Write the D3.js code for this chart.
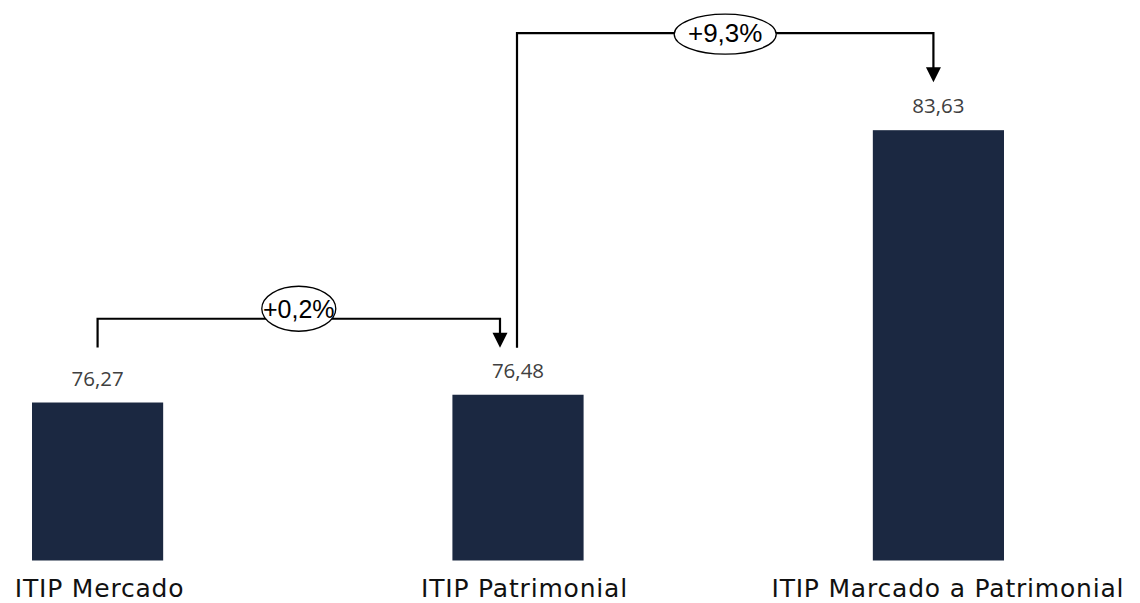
<!DOCTYPE html>
<html>
<head>
<meta charset="utf-8">
<script src="https://cdn.jsdelivr.net/npm/d3@7"></script>
<style>
  html, body { margin: 0; padding: 0; background: #ffffff; }
  svg { display: block; }
</style>
</head>
<body>
<svg id="chart" width="1140" height="603"></svg>
<script>
// Index values for the three ITIP views
const categories = ["ITIP Mercado", "ITIP Patrimonial", "ITIP Marcado a Patrimonial"];
const values = [76.27, 76.48, 83.63];
const valueLabels = ["76,27", "76,48", "83,63"];

// Step-to-step variation shown on the connectors
const changeFrom = [0, 1];
const changeTo = [1, 2];
const changeLabels = ["+0,2%", "+9,3%"];

const W = 1140, H = 603;
const svg = d3.select("#chart");
svg.append("rect").attr("width", W).attr("height", H).attr("fill", "#ffffff");

const x = d3.scaleBand()
  .domain(categories)
  .range([32, 1004])
  .paddingInner(0.688)
  .paddingOuter(0);

const y = d3.scaleLinear()
  .domain([72, 84])
  .range([560.5, 116.5]);

const baseY = y(72);
const barColor = "#1b2841";

// Bars
svg.append("g").selectAll("rect")
  .data(values)
  .join("rect")
  .attr("x", (d, i) => x(categories[i]))
  .attr("y", d => y(d))
  .attr("width", x.bandwidth())
  .attr("height", d => baseY - y(d))
  .attr("fill", barColor);

// Value labels above each bar
svg.append("g").selectAll("text")
  .data(values)
  .join("text")
  .attr("x", (d, i) => x(categories[i]) + x.bandwidth() / 2)
  .attr("y", d => y(d) - 17)
  .attr("text-anchor", "middle")
  .attr("font-family", "'Open Sans', sans-serif")
  .attr("font-size", 20.5)
  .attr("fill", "#404040")
  .text((d, i) => valueLabels[i]);

// Category labels under the bars (small horizontal nudge per label)
const labelNudge = [2, 6.5, 9.5];
svg.append("g").selectAll("text")
  .data(categories)
  .join("text")
  .attr("x", (d, i) => x(d) + x.bandwidth() / 2 + labelNudge[i])
  .attr("y", 597)
  .attr("text-anchor", "middle")
  .attr("font-family", "'DejaVu Sans', sans-serif")
  .attr("font-size", 25)
  .attr("letter-spacing", 0.8)
  .attr("fill", "#111111")
  .text(d => d);

// Connector geometry: bracket height above the taller bar, end offset, bubble style
const connectorLayout = [
  { rise: 76, tipGap: 47, startGap: 55, endShift: -18, bubbleDy: -10, rx: 37, ry: 22.5, fs: 25, textDy: 9 },
  { rise: 97, tipGap: 48, startGap: 47, endShift: -5, bubbleDy: 1, rx: 51, ry: 20, fs: 26, textDy: 8 }
];

const cx = i => x(categories[i]) + x.bandwidth() / 2;
const conn = svg.append("g");

changeLabels.forEach((label, k) => {
  const a = changeFrom[k], b = changeTo[k];
  const L = connectorLayout[k];
  const topY = Math.min(y(values[a]), y(values[b])) - L.rise;
  const x0 = cx(a) - (k === 1 ? 1 : 0);
  const x1 = cx(b) + L.endShift;
  const y0 = y(values[a]) - L.startGap;
  const tipY = y(values[b]) - L.tipGap;
  const headH = 15, headW = 15;

  conn.append("path")
    .attr("d", `M${x0},${y0} V${topY} H${x1} V${tipY - headH + 1}`)
    .attr("fill", "none")
    .attr("stroke", "#000")
    .attr("stroke-width", 2.2)
    .attr("stroke-linejoin", "miter");

  conn.append("path")
    .attr("d", `M${x1 - headW / 2},${tipY - headH} L${x1 + headW / 2},${tipY - headH} L${x1},${tipY} Z`)
    .attr("fill", "#000");

  const mx = (x0 + x1) / 2;
  const my = topY + L.bubbleDy;
  conn.append("ellipse")
    .attr("cx", mx)
    .attr("cy", my)
    .attr("rx", L.rx)
    .attr("ry", L.ry)
    .attr("fill", "#ffffff")
    .attr("stroke", "#000")
    .attr("stroke-width", 1.3);

  conn.append("text")
    .attr("x", mx)
    .attr("y", my + L.textDy)
    .attr("text-anchor", "middle")
    .attr("font-family", "'Liberation Sans', Arial, sans-serif")
    .attr("font-size", L.fs)
    .attr("fill", "#000")
    .text(label);
});
</script>
</body>
</html>
